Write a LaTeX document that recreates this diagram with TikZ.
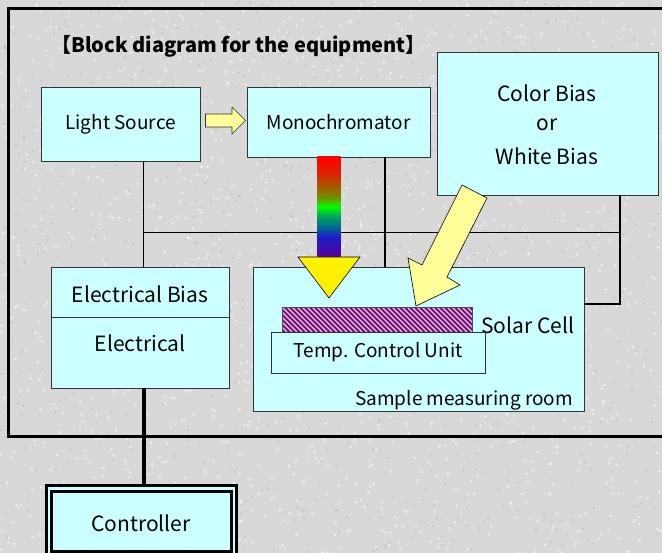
\documentclass[tikz,border=0pt]{standalone}
\usepackage{fontspec}
\setmainfont{Noto Sans CJK JP}
\newcommand\mylbl{\fontsize{19}{22}\selectfont}
\newcommand\mybig{\fontsize{21}{24}\selectfont}
\definecolor{boxcyan}{HTML}{CCFFFF}
\definecolor{bggray}{HTML}{D8D8D8}
\definecolor{paleyel}{HTML}{FFFF99}
\definecolor{celpurple}{HTML}{7A0A78}
\pgfdeclareverticalshading{rainbowbar}{34bp}{%
  color(0bp)=(rgb:red,96;green,0;blue,176);
  color(25bp)=(rgb:red,96;green,0;blue,176);
  color(35bp)=(rgb:red,32;green,32;blue,224);
  color(40bp)=(rgb:red,0;green,160;blue,224);
  color(45bp)=(rgb:red,0;green,208;blue,128);
  color(50bp)=(rgb:red,0;green,192;blue,0);
  color(55bp)=(rgb:red,160;green,192;blue,0);
  color(60bp)=(rgb:red,255;green,144;blue,0);
  color(67bp)=(rgb:red,224;green,32;blue,0);
  color(75bp)=(rgb:red,90;green,0;blue,0);
  color(100bp)=(rgb:red,90;green,0;blue,0)}
\begin{document}
\begin{tikzpicture}[x=1pt,y=-1pt,
  box/.style={draw=black!80, line width=0.8pt, fill=boxcyan, inner sep=0pt,
    outer sep=0pt, anchor=north west},
  lbl/.style={font=\mylbl, inner sep=0pt},
  biglbl/.style={font=\mybig, inner sep=0pt},
  wire/.style={line width=1.3pt},
  thinwire/.style={line width=0.8pt},
  thickwire/.style={line width=4pt}]
\useasboundingbox (0,0) rectangle (662,553);
\clip (0,0) rectangle (662,553);
\fill[bggray] (0,0) rectangle (662,553);
\pgfmathsetseed{7}
\foreach \i in {1,...,1400}{
  \pgfmathsetmacro\px{rnd*662}\pgfmathsetmacro\py{rnd*553}
  \fill[white,opacity=0.5] (\px,\py) circle (1.5);}
\foreach \i in {1,...,900}{
  \pgfmathsetmacro\px{rnd*662}\pgfmathsetmacro\py{rnd*553}
  \fill[black!40,opacity=0.3] (\px,\py) circle (1.1);}
% outer frame
\draw[line width=3pt] (8,9) rectangle (680,437);
% title
\node[anchor=west, inner sep=0pt, font=\fontsize{20}{24}\selectfont\bfseries] (title) at (51,46) {【Block diagram for the equipment】};
% boxes
\node[box, minimum width=159, minimum height=74] (ls) at (41,87) {};
\node[lbl] (lstext) at (ls.center) {Light Source};
\node[box, minimum width=183, minimum height=70] (mono) at (247,87) {};
\node[lbl] (monotext) at (mono.center) {Monochromator};
\node[box, minimum width=221, minimum height=143] (cb) at (437,52) {};
\node[biglbl] (cb1) at (547,93) {Color Bias};
\node[biglbl] (cb2) at (547,125) {or};
\node[biglbl] (cb3) at (547,156) {White Bias};
\node[box, minimum width=178, minimum height=121] (elec) at (51,267) {};
\node[biglbl] (eb1) at (140,294) {Electrical Bias};
\node[biglbl] (eb2) at (140,343) {Electrical};
\node[box, minimum width=331, minimum height=144] (room) at (253,267) {};
\node[lbl, anchor=east] (roomtext) at (573,400) {Sample measuring room};
% controller
\node[box, draw=black, line width=2.5pt, inner sep=0pt, outer sep=0pt,
  minimum width=190, minimum height=75] (ctrlout) at (46.7,485.7) {};
\node[box, draw=black, line width=2.5pt, minimum width=180, minimum height=60] (ctrl) at (51.7,491.7) {};
\node[biglbl] (ctrltext) at (141,523) {Controller};
% divider
\draw[line width=0.8pt, black!80] (elec.west |- 0,317) -- (elec.east |- 0,317);
% connectors
\coordinate (xa) at (143.5,0);
\coordinate (xb) at (385,0);
\coordinate (xc) at (620,0);
\coordinate (hy) at (0,232);
\coordinate (ry) at (0,304);
\draw[wire] (ls.south -| xa) -- (elec.north -| xa);
\draw[wire] (mono.south -| xb) -- (room.north -| xb);
\draw[thinwire] (xa |- hy) -- (xc |- hy);
\draw[line width=2pt] (cb.south -| xc) -- (xc |- ry) -- (room.east |- ry);
\draw[thickwire] (elec.south -| xa) -- (ctrlout.north -| xa);
% solar cell
\node[inner sep=0pt, outer sep=0pt, anchor=north west, minimum width=190, minimum height=25,
  fill=celpurple, draw=black!70, line width=0.6pt] (cell) at (282,307) {};
\begin{scope}
  \clip (cell.north west) rectangle (cell.south east);
  \foreach \k in {-30,-25,...,200}{
    \draw[white, line width=1.4pt, opacity=0.8] (282+\k,307) -- (282+\k+25,332);}
\end{scope}
\draw[draw=black!70, line width=0.6pt] (cell.north west) rectangle (cell.south east);
\node[biglbl, anchor=west] (celltext) at (481,325) {Solar Cell};
\node[box, minimum width=214, minimum height=41] (tcu) at (271,332) {};
\node[lbl] (tcutext) at (tcu.center) {Temp. Control Unit};
% rainbow bar and triangle
\shade[shading=rainbowbar] (312,157) rectangle (346,257);
\filldraw[fill=yellow, draw=black, line width=0.6pt] (298,257) -- (360,257) -- (329,298) -- cycle;
% small arrow light source -> monochromator
\filldraw[fill=paleyel, draw=black!80, line width=0.6pt]
  (205.5,114) -- (232,114) -- (232,107) -- (245.5,120.5) -- (232,134) -- (232,127) -- (205.5,127) -- cycle;
% big arrow from colour bias
\filldraw[fill=paleyel, draw=black, line width=0.6pt]
  (462,185) -- (487,198) -- (447,277) -- (460,285) -- (416,306) -- (408,258) -- (422,265) -- cycle;
\end{tikzpicture}
\end{document}
